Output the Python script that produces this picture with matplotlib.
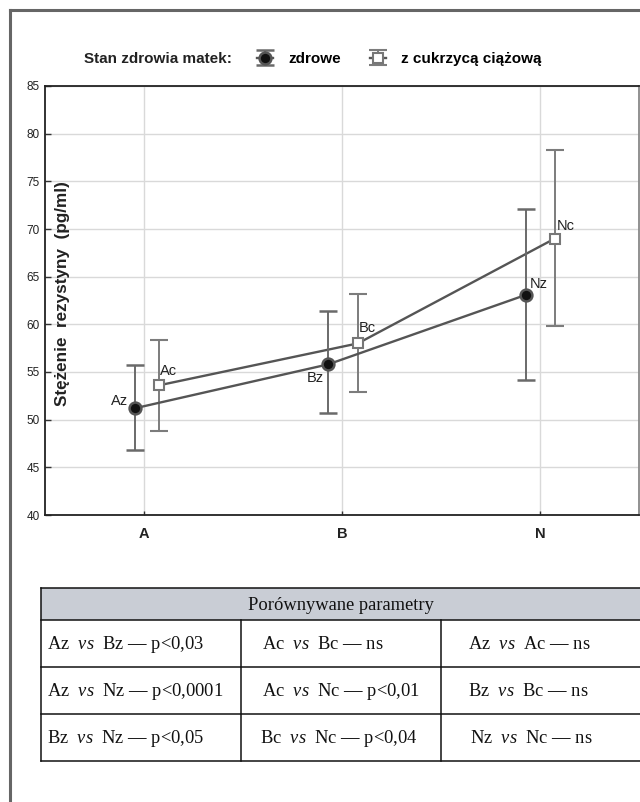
import matplotlib
matplotlib.use("Agg")
import matplotlib.pyplot as plt
from matplotlib.lines import Line2D
import numpy as np

# ---- data ----
categories = ['A', 'B', 'N']
zdrowe_mean = [51.2, 55.8, 63.1]
zdrowe_low = [46.8, 50.7, 54.15]
zdrowe_high = [55.7, 61.4, 72.1]
cukrzyca_mean = [53.6, 58.0, 69.0]
cukrzyca_low = [48.8, 52.9, 59.85]
cukrzyca_high = [58.4, 63.2, 78.3]
point_labels_z = ['Az', 'Bz', 'Nz']
point_labels_c = ['Ac', 'Bc', 'Nc']
yticks = [40, 45, 50, 55, 60, 65, 70, 75, 80, 85]

table_header = 'Porównywane parametry'
table_rows = [
    [('Az', 'Bz', 'p<0,03'), ('Ac', 'Bc', 'ns'), ('Az', 'Ac', 'ns')],
    [('Az', 'Nz', 'p<0,0001'), ('Ac', 'Nc', 'p<0,01'), ('Bz', 'Bc', 'ns')],
    [('Bz', 'Nz', 'p<0,05'), ('Bc', 'Nc', 'p<0,04'), ('Nz', 'Nc', 'ns')],
]

plt.rcParams['font.family'] = ['Liberation Sans Narrow', 'Liberation Sans', 'DejaVu Sans']
plt.rcParams['mathtext.fontset'] = 'custom'
plt.rcParams['mathtext.rm'] = 'Liberation Serif'
plt.rcParams['mathtext.it'] = 'Liberation Serif:italic'
plt.rcParams['mathtext.bf'] = 'Liberation Serif:bold'

SANS = ['Liberation Sans', 'DejaVu Sans']
SERIF = ['Liberation Serif', 'DejaVu Serif']

W, H = 640, 802
fig = plt.figure(figsize=(W / 100, H / 100), dpi=100)

def fx(px):
    return px / W

def fy(py):
    return 1 - py / H

# outer frame (left and top)
fig.add_artist(Line2D([fx(9.5), fx(9.5)], [fy(10), fy(H + 5)], color='#666666', lw=2.2))
fig.add_artist(Line2D([fx(9.5), fx(W + 5)], [fy(10), fy(10)], color='#666666', lw=2.2))

ax = fig.add_axes([fx(45), fy(515), fx(639) - fx(45), fy(86) - fy(515)])
x = np.arange(len(categories))
z_off = np.array([-0.045, -0.07, -0.07])
c_off = np.array([0.075, 0.08, 0.075])
xz = x + z_off
xc = x + c_off

zm = np.array(zdrowe_mean)
cm = np.array(cukrzyca_mean)
z_err = [zm - np.array(zdrowe_low), np.array(zdrowe_high) - zm]
c_err = [cm - np.array(cukrzyca_low), np.array(cukrzyca_high) - cm]

hz = ax.errorbar(xz, zm, yerr=z_err, fmt='-o', color='#555555', lw=1.7, ms=8.5,
                 mfc='#111111', mec='#555555', mew=1.8,
                 ecolor='#6a6a6a', elinewidth=1.4, capsize=6.5, capthick=2.3, zorder=4)
hc = ax.errorbar(xc, cm, yerr=c_err, fmt='-s', color='#555555', lw=1.7, ms=6.5,
                 mfc='white', mec='#777777', mew=1.5,
                 ecolor='#7c7c7c', elinewidth=1.4, capsize=6.5, capthick=2.3, zorder=3)

z_offsets = [(-11, 5), (-9, -10), (9, 8)]
c_offsets = [(7, 10), (7, 11), (8, 9)]
for xi, yi, lab, off in zip(xz, zm, point_labels_z, z_offsets):
    ax.annotate(lab, (xi, yi), xytext=off, textcoords='offset points',
                ha='center', va='center', fontsize=10.5, color='#222222', zorder=6,
                family=SANS)
for xi, yi, lab, off in zip(xc, cm, point_labels_c, c_offsets):
    ax.annotate(lab, (xi, yi), xytext=off, textcoords='offset points',
                ha='center', va='center', fontsize=10.5, color='#222222', zorder=6,
                family=SANS)

ax.set_xlim(-0.5, 2.5)
ax.set_ylim(40, 85)
ax.set_yticks(yticks)
ax.set_yticklabels([str(v) for v in yticks], fontsize=8.5, color='#222222')
ax.set_xticks(x)
ax.set_xticklabels(categories, fontsize=10.5, fontweight='bold', color='#222222', family=SANS)
ax.tick_params(axis='y', direction='in', length=4, width=1, color='#333333', pad=4)
ax.tick_params(axis='x', direction='in', length=3, width=1, color='#333333', pad=9)
ax.grid(True, color='#d9d9d9', lw=1)
ax.set_axisbelow(True)
for s in ['left', 'bottom', 'top']:
    ax.spines[s].set_color('#222222')
    ax.spines[s].set_linewidth(1.3)
ax.spines['right'].set_color('#888888')
ax.spines['right'].set_linewidth(1.3)

# y label inside axes
fig.text(fx(63), fy(294), 'Stężenie  rezystyny  (pg/ml)', rotation=90, ha='center', va='center',
         fontsize=12.3, fontweight='bold', color='#222222', family=SANS)

# legend
fig.text(fx(84), fy(59), 'Stan zdrowia matek:', ha='left', va='center', fontsize=11,
         fontweight='bold', color='#222222', family=SANS)
leg = fig.legend([hz, hc], ['zdrowe', 'z cukrzycą ciążową'], loc='center left',
                 bbox_to_anchor=(fx(257), fy(59)), ncol=2, frameon=False, handlelength=1.05,
                 handletextpad=1.0, columnspacing=1.9, borderpad=0, borderaxespad=0,
                 prop={'family': SANS, 'weight': 'bold', 'size': 11})

# table
tl, tr = 41, 641
col_x = [41, 241, 441, 641]
t_top, h_bot = 588, 620
row_lines = [620, 667, 714, 761]
fig.add_artist(plt.Rectangle((fx(tl), fy(h_bot)), fx(tr) - fx(tl), fy(t_top) - fy(h_bot),
                             facecolor='#c9cdd5', edgecolor='none', transform=fig.transFigure))
lc = '#111111'
for yy in [t_top, h_bot] + row_lines[1:]:
    fig.add_artist(Line2D([fx(tl), fx(tr)], [fy(yy), fy(yy)], color=lc, lw=1.1))
fig.add_artist(Line2D([fx(tl), fx(tl)], [fy(t_top), fy(row_lines[-1])], color=lc, lw=1.1))
for cx in col_x[1:3]:
    fig.add_artist(Line2D([fx(cx), fx(cx)], [fy(h_bot), fy(row_lines[-1])], color=lc, lw=1.1))
fig.text(fx((tl + tr) / 2), fy((t_top + h_bot) / 2 + 1), table_header, ha='center', va='center',
         fontsize=13.3, family=SERIF, color='#111111')
text_x = [[47, 262, 468], [47, 262, 468], [47, 260, 470]]
for ri, row in enumerate(table_rows):
    yc = (row_lines[ri] + row_lines[ri + 1]) / 2 + 1
    for ci, (a, b, p) in enumerate(row):
        s = a + r'  $\mathit{vs}$  ' + b + r' $\mathbf{—}$ ' + p
        fig.text(fx(text_x[ri][ci]), fy(yc), s, ha='left', va='center', fontsize=13.3,
                 family=SERIF, color='#111111')

fig.savefig('out.png', dpi=100)
